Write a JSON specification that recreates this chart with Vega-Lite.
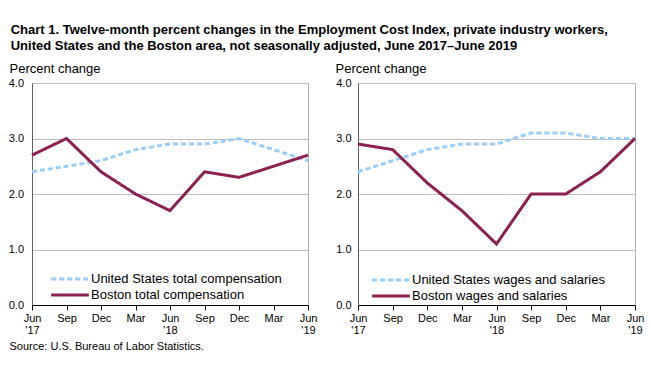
{
  "$schema": "https://vega.github.io/schema/vega-lite/v6.json",
  "background": "white",
  "padding": {"left": 7, "top": 23, "right": 5, "bottom": 5},
  "config": {
    "font": "Liberation Sans",
    "view": {"stroke": "#b0b0b0", "strokeWidth": 1},
    "concat": {"spacing": 16}
  },
  "title": {
    "text": ["Chart 1. Twelve-month percent changes in the Employment Cost Index, private industry workers,", "United States and the Boston area, not seasonally adjusted, June 2017–June 2019"],
    "anchor": "start",
    "font": "Liberation Sans",
    "fontSize": 13,
    "fontWeight": "bold",
    "color": "black",
    "lineHeight": 16,
    "offset": 9,
    "dx": 3
  },
  "data": {
    "values": [
      {"panel": "left", "series": "United States total compensation", "period": "Jun '17", "value": 2.4},
      {"panel": "left", "series": "United States total compensation", "period": "Sep '17", "value": 2.5},
      {"panel": "left", "series": "United States total compensation", "period": "Dec '17", "value": 2.6},
      {"panel": "left", "series": "United States total compensation", "period": "Mar '18", "value": 2.8},
      {"panel": "left", "series": "United States total compensation", "period": "Jun '18", "value": 2.9},
      {"panel": "left", "series": "United States total compensation", "period": "Sep '18", "value": 2.9},
      {"panel": "left", "series": "United States total compensation", "period": "Dec '18", "value": 3.0},
      {"panel": "left", "series": "United States total compensation", "period": "Mar '19", "value": 2.8},
      {"panel": "left", "series": "United States total compensation", "period": "Jun '19", "value": 2.6},
      {"panel": "left", "series": "Boston total compensation", "period": "Jun '17", "value": 2.7},
      {"panel": "left", "series": "Boston total compensation", "period": "Sep '17", "value": 3.0},
      {"panel": "left", "series": "Boston total compensation", "period": "Dec '17", "value": 2.4},
      {"panel": "left", "series": "Boston total compensation", "period": "Mar '18", "value": 2.0},
      {"panel": "left", "series": "Boston total compensation", "period": "Jun '18", "value": 1.7},
      {"panel": "left", "series": "Boston total compensation", "period": "Sep '18", "value": 2.4},
      {"panel": "left", "series": "Boston total compensation", "period": "Dec '18", "value": 2.3},
      {"panel": "left", "series": "Boston total compensation", "period": "Mar '19", "value": 2.5},
      {"panel": "left", "series": "Boston total compensation", "period": "Jun '19", "value": 2.7},
      {"panel": "right", "series": "United States wages and salaries", "period": "Jun '17", "value": 2.4},
      {"panel": "right", "series": "United States wages and salaries", "period": "Sep '17", "value": 2.6},
      {"panel": "right", "series": "United States wages and salaries", "period": "Dec '17", "value": 2.8},
      {"panel": "right", "series": "United States wages and salaries", "period": "Mar '18", "value": 2.9},
      {"panel": "right", "series": "United States wages and salaries", "period": "Jun '18", "value": 2.9},
      {"panel": "right", "series": "United States wages and salaries", "period": "Sep '18", "value": 3.1},
      {"panel": "right", "series": "United States wages and salaries", "period": "Dec '18", "value": 3.1},
      {"panel": "right", "series": "United States wages and salaries", "period": "Mar '19", "value": 3.0},
      {"panel": "right", "series": "United States wages and salaries", "period": "Jun '19", "value": 3.0},
      {"panel": "right", "series": "Boston wages and salaries", "period": "Jun '17", "value": 2.9},
      {"panel": "right", "series": "Boston wages and salaries", "period": "Sep '17", "value": 2.8},
      {"panel": "right", "series": "Boston wages and salaries", "period": "Dec '17", "value": 2.2},
      {"panel": "right", "series": "Boston wages and salaries", "period": "Mar '18", "value": 1.7},
      {"panel": "right", "series": "Boston wages and salaries", "period": "Jun '18", "value": 1.1},
      {"panel": "right", "series": "Boston wages and salaries", "period": "Sep '18", "value": 2.0},
      {"panel": "right", "series": "Boston wages and salaries", "period": "Dec '18", "value": 2.0},
      {"panel": "right", "series": "Boston wages and salaries", "period": "Mar '19", "value": 2.4},
      {"panel": "right", "series": "Boston wages and salaries", "period": "Jun '19", "value": 3.0}
    ]
  },
  "resolve": {"scale": {"color": "independent", "strokeDash": "independent"}, "legend": {"color": "independent", "strokeDash": "independent"}},
  "hconcat": [
    {
      "width": 276,
      "height": 222,
      "transform": [{"filter": "datum.panel === 'left'"}],
      "mark": {"type": "line", "strokeWidth": 3},
      "encoding": {
        "x": {
          "field": "period", "type": "ordinal",
          "sort": ["Jun '17", "Sep '17", "Dec '17", "Mar '18", "Jun '18", "Sep '18", "Dec '18", "Mar '19", "Jun '19"],
          "scale": {"type": "point", "padding": 0},
          "axis": {
            "title": "Source: U.S. Bureau of Labor Statistics.",
            "titleX": -23, "titleY": 44, "titleAlign": "left", "titleAnchor": "start", "titleBaseline": "alphabetic",
            "titleFontSize": 11, "titleFontWeight": "normal", "titleColor": "black", "titleFont": "Liberation Sans",
            "labelExpr": "indexof(datum.value, 'Jun') === 0 ? split(datum.value, ' ') : split(datum.value, ' ')[0]",
            "labelAngle": 0, "labelFontSize": 11, "labelColor": "black", "labelLineHeight": 12, "labelPadding": 2,
            "tickSize": 5, "tickColor": "black", "domainColor": "black", "grid": false
          }
        },
        "y": {
          "field": "value", "type": "quantitative",
          "scale": {"domain": [0, 4], "nice": false},
          "axis": {
            "title": "Percent change", "titleAngle": 0, "titleAlign": "left", "titleAnchor": "end", "titleBaseline": "alphabetic",
            "titleX": -23, "titleY": -11, "titleFontSize": 13, "titleFontWeight": "normal", "titleColor": "black",
            "values": [0, 1, 2, 3, 4], "format": ".1f", "labelFontSize": 11, "labelColor": "black", "labelPadding": 8.5,
            "ticks": false, "domainColor": "#606060", "grid": true, "gridColor": "#bdbdbd"
          }
        },
        "color": {
          "field": "series", "type": "nominal",
          "scale": {"domain": ["United States total compensation", "Boston total compensation"], "range": ["#99ccff", "#8c2151"]},
          "legend": {"title": null, "orient": "none", "legendX": 30, "legendY": 188, "symbolType": "M-2.9,0H2.9", "symbolSize": 169, "symbolStrokeWidth": 3, "labelOffset": 13, "labelFontSize": 13, "labelColor": "black", "labelLimit": 0, "rowPadding": 1, "labelFont": "Liberation Sans"}
        },
        "strokeDash": {
          "field": "series", "type": "nominal",
          "scale": {"domain": ["United States total compensation", "Boston total compensation"], "range": [[5, 3], [1, 0]]},
          "legend": {"title": null, "orient": "none", "legendX": 30, "legendY": 188, "symbolType": "M-2.9,0H2.9", "symbolSize": 169, "symbolStrokeWidth": 3, "labelOffset": 13, "labelFontSize": 13, "labelColor": "black", "labelLimit": 0, "rowPadding": 1, "labelFont": "Liberation Sans"}
        }
      }
    },
    {
      "width": 277,
      "height": 222,
      "transform": [{"filter": "datum.panel === 'right'"}],
      "mark": {"type": "line", "strokeWidth": 3},
      "encoding": {
        "x": {
          "field": "period", "type": "ordinal",
          "sort": ["Jun '17", "Sep '17", "Dec '17", "Mar '18", "Jun '18", "Sep '18", "Dec '18", "Mar '19", "Jun '19"],
          "scale": {"type": "point", "padding": 0},
          "axis": {
            "title": null,
            "labelExpr": "indexof(datum.value, 'Jun') === 0 ? split(datum.value, ' ') : split(datum.value, ' ')[0]",
            "labelAngle": 0, "labelFontSize": 11, "labelColor": "black", "labelLineHeight": 12, "labelPadding": 2,
            "tickSize": 5, "tickColor": "black", "domainColor": "black", "grid": false
          }
        },
        "y": {
          "field": "value", "type": "quantitative",
          "scale": {"domain": [0, 4], "nice": false},
          "axis": {
            "title": "Percent change", "titleAngle": 0, "titleAlign": "left", "titleAnchor": "end", "titleBaseline": "alphabetic",
            "titleX": -23, "titleY": -11, "titleFontSize": 13, "titleFontWeight": "normal", "titleColor": "black",
            "values": [0, 1, 2, 3, 4], "format": ".1f", "labelFontSize": 11, "labelColor": "black", "labelPadding": 7,
            "ticks": false, "domainColor": "#606060", "grid": true, "gridColor": "#bdbdbd"
          }
        },
        "color": {
          "field": "series", "type": "nominal",
          "scale": {"domain": ["United States wages and salaries", "Boston wages and salaries"], "range": ["#99ccff", "#8c2151"]},
          "legend": {"title": null, "orient": "none", "legendX": 25, "legendY": 189, "symbolType": "M-2.9,0H2.9", "symbolSize": 169, "symbolStrokeWidth": 3, "labelOffset": 13, "labelFontSize": 13, "labelColor": "black", "labelLimit": 0, "rowPadding": 1, "labelFont": "Liberation Sans"}
        },
        "strokeDash": {
          "field": "series", "type": "nominal",
          "scale": {"domain": ["United States wages and salaries", "Boston wages and salaries"], "range": [[5, 3], [1, 0]]},
          "legend": {"title": null, "orient": "none", "legendX": 25, "legendY": 189, "symbolType": "M-2.9,0H2.9", "symbolSize": 169, "symbolStrokeWidth": 3, "labelOffset": 13, "labelFontSize": 13, "labelColor": "black", "labelLimit": 0, "rowPadding": 1, "labelFont": "Liberation Sans"}
        }
      }
    }
  ]
}
